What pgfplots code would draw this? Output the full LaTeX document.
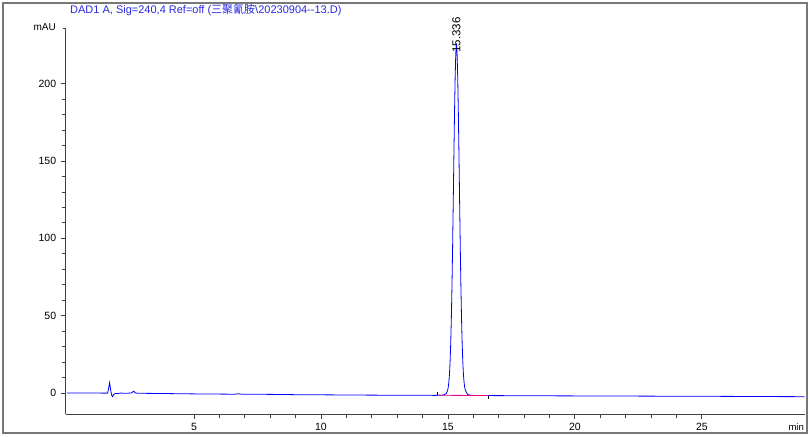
\documentclass[border=0pt]{standalone}
\usepackage{fontspec}
\setmainfont{Liberation Sans}
\newfontfamily\cjk{Noto Sans CJK SC}
\usepackage{pgfplots}
\pgfplotsset{compat=1.18}
\definecolor{sigblue}{RGB}{0,0,255}
\definecolor{ttlblue}{RGB}{40,40,225}
\definecolor{framegray}{RGB}{120,120,120}

\begin{document}
\begin{tikzpicture}[x=1pt,y=1pt]
\path[use as bounding box] (0,0) rectangle (810,436);
\draw[framegray, line width=1.2pt] (3,3) rectangle (807,433);
\begin{axis}[
    at={(65.7pt,22pt)}, anchor=south west,
    scale only axis, width=739pt, height=386pt,
    xmin=-0.05, xmax=29.05,
    ymin=-13.6, ymax=236,
    axis x line*=bottom, axis y line*=left,
    axis line style={black!75, line width=0.8pt},
    every tick/.style={black!75, line width=0.8pt},
    tick align=outside,
    major tick length=5pt, minor tick length=4pt,
    xtick={5,10,15,20,25}, minor x tick num=4,
    ytick={0,50,100,150,200}, minor y tick num=4,
    extra y ticks={236}, extra y tick labels={},
    extra y tick style={major tick length=3pt},
    /pgf/number format/assume math mode=true,
    ticklabel style={font=\fontsize{10.5}{12}\selectfont, black},
    xticklabel style={yshift=-1pt},
    yticklabel style={xshift=-1pt},
    clip=false,
]
% signal
\addplot[sigblue, line width=0.8pt] coordinates {
(0.0,0.0) (0.5,0.0) (1.0,-0.05) (1.5,-0.1) (1.6,-0.1) (1.64,3.0) (1.68,6.7) (1.72,2.0)
(1.76,-1.5) (1.8,-2.4) (1.85,-0.8) (1.9,-0.3) (2.0,-0.4) (2.1,-0.1) (2.15,0.0) (2.2,-0.2)
(2.4,-0.2) (2.55,0.1) (2.62,1.2) (2.7,0.0) (2.8,-0.2) (3.5,-0.3) (5,-0.6) (6.6,-0.8)
(6.75,-0.5) (6.9,-0.85) (8,-0.9) (9,-1.1) (10,-1.2) (12,-1.4) (14,-1.5) (14.5,-1.55)
(14.736,-1.5) (14.836,-1.25) (14.886,-0.9) (14.936,-0.3) (14.986,1.6) (15.011,3.4)
(15.036,6.7) (15.061,11.9) (15.086,20.2) (15.111,32.1) (15.136,48.6) (15.161,69.7)
(15.186,95.2) (15.211,124.0) (15.236,153.6) (15.261,181.6) (15.286,204.6) (15.311,219.8)
(15.336,226.0) (15.361,219.8) (15.386,204.6) (15.411,181.6) (15.436,153.6) (15.461,124.0)
(15.486,95.2) (15.511,69.7) (15.536,48.6) (15.561,32.1) (15.586,20.4) (15.611,12.2)
(15.636,7.0) (15.661,3.8) (15.686,1.9) (15.736,0.0) (15.786,-0.9) (15.836,-1.3)
(15.936,-1.55) (16.2,-1.65) (18,-1.8) (20,-1.9) (22,-2.0) (24,-2.1) (26,-2.2)
(28,-2.35) (29.05,-2.4)
};
% integration baseline and its start/end marks
\addplot[magenta, line width=0.8pt] coordinates {(14.59,-1.5) (16.59,-1.65)};
\addplot[black, line width=0.6pt] coordinates {(14.59,-1.5) (14.59,0.8)};
\addplot[black, line width=0.6pt] coordinates {(16.59,-1.65) (16.59,-3.9)};
\node[rotate=90, anchor=west, inner sep=0pt, font=\fontsize{11.5}{13}\selectfont]
    at (axis cs:15.336,220) {15.336};
\end{axis}
\node[anchor=base west, text=ttlblue, inner sep=0pt, font=\fontsize{11}{13}\selectfont]
    at (70,422.5) {DAD1 A, Sig=240,4 Ref=off ({\cjk 三聚氰胺}\textbackslash 20230904-{}-13.D)};
\node[anchor=base east, inner sep=0pt, font=\fontsize{10}{12}\selectfont] at (56,405.3) {mAU};
\node[anchor=base east, inner sep=0pt, font=\fontsize{9.5}{12}\selectfont] at (804,5.3) {min};
\end{tikzpicture}
\end{document}
